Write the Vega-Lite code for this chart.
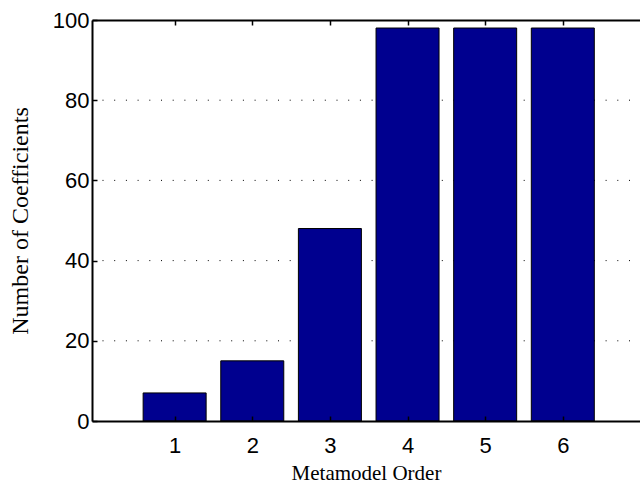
{
  "$schema": "https://vega.github.io/schema/vega-lite/v6.json",
  "width": 548,
  "height": 401,
  "autosize": {"type": "none"},
  "padding": {"left": 92, "top": 20, "right": 0, "bottom": 62},
  "background": "white",
  "config": {
    "view": {"stroke": null}
  },
  "layer": [
    {
      "data": {"values": [{"g": 20}, {"g": 40}, {"g": 60}, {"g": 80}]},
      "mark": {"type": "rule", "color": "black", "strokeWidth": 1, "strokeDash": [1, 10.7], "strokeDashOffset": -10},
      "encoding": {
        "y": {"field": "g", "type": "quantitative", "scale": {"domain": [0, 100], "nice": false},
          "axis": {"values": [0, 20, 40, 60, 80, 100], "title": "Number of Coefficients", "domain": true,
            "domainColor": "black", "domainWidth": 2, "tickColor": "black", "tickWidth": 1.5, "tickSize": -5,
            "labelFont": "Liberation Sans", "labelFontSize": 22, "labelColor": "black", "labelPadding": 8,
            "titleFont": "Liberation Serif", "titleFontSize": 24, "titleFontWeight": "normal", "titleColor": "black", "titlePadding": 20,
            "grid": false, "zindex": 1}}
      }
    },
    {
      "data": {"values": [
        {"order": 1, "coef": 7},
        {"order": 2, "coef": 15},
        {"order": 3, "coef": 48},
        {"order": 4, "coef": 98},
        {"order": 5, "coef": 98},
        {"order": 6, "coef": 98}
      ]},
      "mark": {"type": "bar", "size": 63, "color": "#00008F", "stroke": "black", "strokeWidth": 1},
      "encoding": {
        "x": {
          "field": "order", "type": "quantitative",
          "scale": {"domain": [0, 6.93], "nice": false, "zero": false},
          "axis": {"orient": "bottom", "values": [1, 2, 3, 4, 5, 6], "title": "Metamodel Order", "format": "d",
            "domainColor": "black", "domainWidth": 2, "tickColor": "black", "tickWidth": 1.5, "tickSize": -5,
            "labelFont": "Liberation Sans", "labelFontSize": 22, "labelColor": "black", "labelPadding": 19,
            "titleFont": "Liberation Serif", "titleFontSize": 21, "titleFontWeight": "normal", "titleColor": "black", "titlePadding": 6,
            "grid": false, "zindex": 1}
        },
        "y": {
          "field": "coef", "type": "quantitative",
          "scale": {"domain": [0, 100], "nice": false}
        }
      }
    },
    {
      "data": {"values": [
        {"order": 1, "coef": 7},
        {"order": 6, "coef": 98}
      ]},
      "mark": {"type": "point", "opacity": 0},
      "encoding": {
        "x": {
          "field": "order", "type": "quantitative",
          "scale": {"domain": [0, 6.93], "nice": false, "zero": false},
          "axis": {"orient": "top", "values": [1, 2, 3, 4, 5, 6], "labels": false, "title": null,
            "domainColor": "black", "domainWidth": 2, "tickColor": "black", "tickWidth": 1.5, "tickSize": -5,
            "grid": false, "zindex": 1}
        },
        "y": {"field": "coef", "type": "quantitative", "scale": {"domain": [0, 100], "nice": false}}
      }
    },
    {
      "mark": {"type": "rule", "color": "black", "strokeWidth": 2},
      "encoding": {"x": {"datum": 0, "type": "quantitative", "axis": null}}
    }
  ],
  "resolve": {"axis": {"x": "independent"}}
}
